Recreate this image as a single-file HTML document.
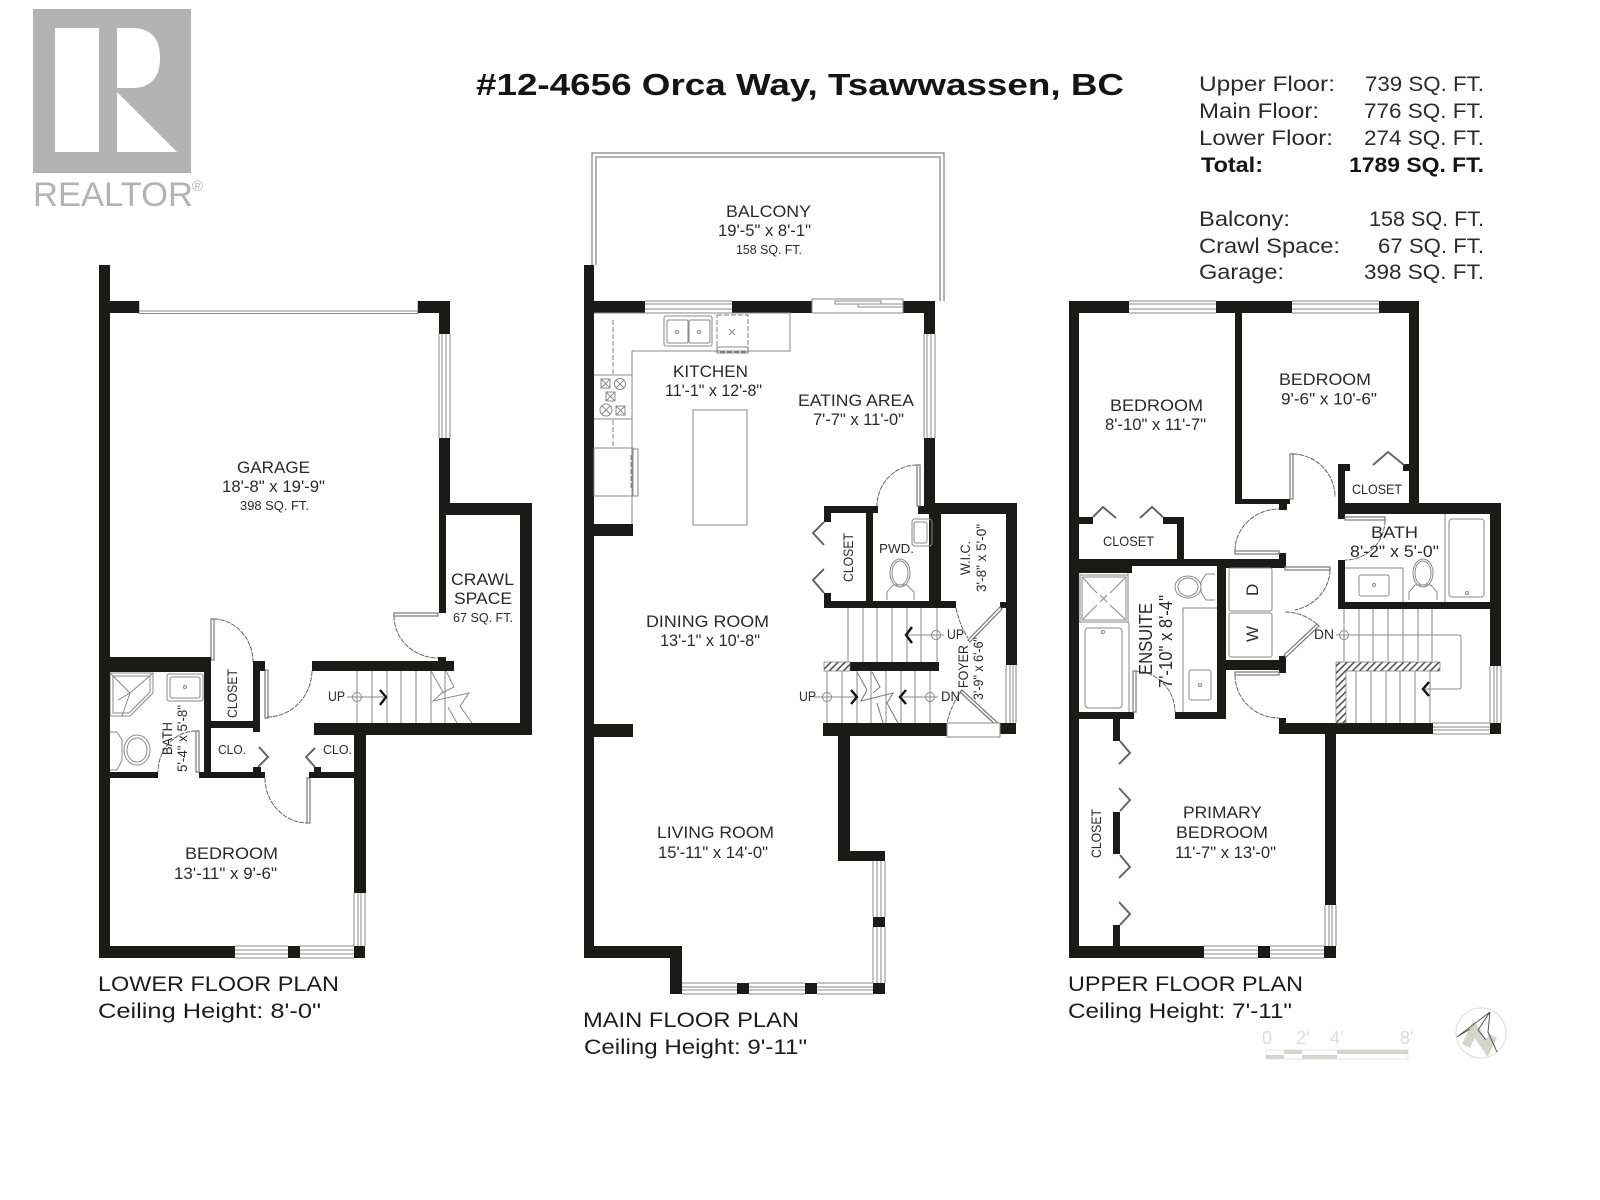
<!DOCTYPE html>
<html><head><meta charset="utf-8"><title>Floor plan</title>
<style>
html,body{margin:0;padding:0;background:#fff}
svg{display:block}
text{font-family:"Liberation Sans",sans-serif;fill:#2b2b2b}
.b{font-weight:bold;fill:#151515}
.m{fill:#1c1c1c}
.g{fill:none;stroke:#8a8a8a;stroke-width:1}
.d{fill:none;stroke:#777;stroke-width:.9;stroke-dasharray:5 2}
.f{fill:#fff;stroke:#777;stroke-width:1.2}
.l{fill:none;stroke:#666;stroke-width:1}
.c{fill:none;stroke:#111;stroke-width:2.4}
</style></head><body>
<svg xmlns="http://www.w3.org/2000/svg" width="1600" height="1200" viewBox="0 0 1600 1200">
<defs><pattern id="h" width="5" height="5" patternUnits="userSpaceOnUse" patternTransform="rotate(45)"><rect width="5" height="5" fill="#fff"/><rect width="1.6" height="5" fill="#555"/></pattern></defs>
<rect width="1600" height="1200" fill="#fff"/>

<!-- Logo -->
<rect x="33" y="9" width="158" height="164" fill="#b3b3b3"/>
<rect x="55" y="28" width="44" height="124" fill="#fff"/>
<path d="M117 28H135Q160 30 160 58Q160 86 135 88H117Z" fill="#fff"/>
<path d="M117 92L177 152H117Z" fill="#fff"/>
<text x="33" y="206" font-size="34" textLength="160" lengthAdjust="spacingAndGlyphs" style="fill:#b3b3b3">REALTOR</text>
<text x="192" y="191" font-size="15" style="fill:#b3b3b3">®</text>

<!-- Title -->
<text class="b" x="476" y="95" font-size="31" textLength="648" lengthAdjust="spacingAndGlyphs">#12-4656 Orca Way, Tsawwassen, BC</text>

<!-- Stats -->
<g font-size="21">
<text x="1199" y="91" textLength="136" lengthAdjust="spacingAndGlyphs">Upper Floor:</text>
<text x="1199" y="118" textLength="120" lengthAdjust="spacingAndGlyphs">Main Floor:</text>
<text x="1199" y="145" textLength="134" lengthAdjust="spacingAndGlyphs">Lower Floor:</text>
<text class="b" x="1201" y="172" textLength="62" lengthAdjust="spacingAndGlyphs">Total:</text>
<text x="1199" y="226" textLength="91" lengthAdjust="spacingAndGlyphs">Balcony:</text>
<text x="1199" y="253" textLength="141" lengthAdjust="spacingAndGlyphs">Crawl Space:</text>
<text x="1199" y="279" textLength="85" lengthAdjust="spacingAndGlyphs">Garage:</text>
<text x="1365" y="91" textLength="119" lengthAdjust="spacingAndGlyphs">739 SQ. FT.</text>
<text x="1364" y="118" textLength="120" lengthAdjust="spacingAndGlyphs">776 SQ. FT.</text>
<text x="1364" y="145" textLength="120" lengthAdjust="spacingAndGlyphs">274 SQ. FT.</text>
<text class="b" x="1349" y="172" textLength="135" lengthAdjust="spacingAndGlyphs">1789 SQ. FT.</text>
<text x="1369" y="226" textLength="115" lengthAdjust="spacingAndGlyphs">158 SQ. FT.</text>
<text x="1378" y="253" textLength="106" lengthAdjust="spacingAndGlyphs">67 SQ. FT.</text>
<text x="1364" y="279" textLength="120" lengthAdjust="spacingAndGlyphs">398 SQ. FT.</text>
</g>

<!-- Balcony -->
<path class="l" d="M592 265V153H944V301M596 265V157H940V301"/>

<!-- Fine fixtures: lower floor -->
<g class="g">
<path d="M139 301V313.5H418V301M139 301V311H418"/>
<path d="M110 673H153V693L130 716H110Z"/><path d="M113 676H150V692L129 713H113Z"/>
<path d="M110 673L130 693M153 673L130 693M130 693L122 716M130 693L118 700"/>
<rect x="167" y="674" width="36" height="27" rx="2"/><rect x="170" y="677" width="30" height="21" rx="2"/>
<circle cx="185" cy="687" r="1.5"/>
<ellipse cx="137" cy="750" rx="13" ry="15"/><ellipse cx="137" cy="750" rx="10" ry="12"/>
<path d="M110 732H117L122 740V760L117 770H110"/>
<path d="M357 671V723M372 671V723M387 671V723M401 671V723M416 671V723M431 671V723M445 671V723"/>
<path d="M431 671L443 692L433 701L469 693L460 706L472 723M446 671L454 687L442 693M448 707L457 723"/>
</g>
<!-- Doors lower -->
<g class="f">
<rect x="211" y="619" width="3" height="41"/><rect x="265" y="670" width="3" height="48"/>
<rect x="307" y="778" width="3" height="45"/><rect x="196" y="731" width="3" height="41"/>
<rect x="394" y="613" width="44" height="3"/>
</g>
<g class="l" stroke-dasharray="5 1">
<path d="M214 619A40 43 0 0 1 253 662"/><path d="M267 717A45 47 0 0 0 312 671"/>
<path d="M265 778A43 45 0 0 0 308 823"/><path d="M196 731A38 41 0 0 0 158 772"/><path d="M394 616A44 42 0 0 0 438 658"/>
</g>
<g style="fill:none;stroke:#666;stroke-width:2">
<path d="M258 767L268 757L259 747"/><path d="M315 767L306 757L315 748"/>
</g>

<!-- Walls -->
<g fill="#1a1a18">
<!-- lower -->
<path d="M99 265H110V946H235V958H99ZM110 301H139V313H110ZM418 301H450V334H439V313H418ZM439 438H450V503H532V735H314V723H520V515H446V613H439ZM288 946H300V958H288ZM354 946H365V958H354ZM355 723H366V893H354V734ZM110 657H211V672H110ZM204 672H211V778H199V772H204ZM253 661H265V671H260V732H253ZM204 721H260V728H204ZM312 661H454V671H312ZM438 657H446V661H438ZM110 772H158V778H110ZM199 772H265V778H199ZM253 767H261V772H253ZM309 772H355V778H309ZM314 767H321V772H314ZM314 723H321V733H314Z"/>
<!-- main -->
<path d="M584 265H594V946H682V994H670V958H584ZM594 301H645V313H594ZM732 301H812V313H732ZM903 301H935V334H924V313H903ZM924 438H935V503H1017V665H1006V514H941V601H956V608H824V506H878V513H831V522H824V593H831V601H866V513H873V601H929V514H918V506H924ZM1000 602H1006V608H1000ZM850 662H939V671H850ZM823 723H947V736H850V851H885V861H838V736H823ZM1000 723H1016V734H1000ZM594 524H633V536H594ZM593 724H633V737H593ZM737 983H749V994H737ZM805 983H817V994H805ZM873 983H885V994H873ZM873 917H885V927H873Z"/>
<!-- upper -->
<path d="M1069 301H1129V313H1079V946H1204V958H1069Z"/>
<path d="M1216 301H1292V313H1242V499H1290V504H1287V510H1280V504H1235V313H1216Z"/>
<path d="M1379 301H1419V503H1501V666H1490V514H1345V519H1338V464H1350V471H1345V503H1409V313H1379Z"/>
<path d="M1403 464H1409V471H1403ZM1079 517H1093V524H1079Z"/>
<path d="M1163 517H1184V559H1279V553H1286V568H1226V660H1279V656H1286V673H1279V670H1226V719H1175V712H1217V566H1132V573H1079V559H1177V524H1163Z"/>
<path d="M1338 560H1345V602H1490V609H1338ZM1279 503H1286V510H1279ZM1279 718H1286V723H1433V734H1279ZM1490 723H1501V734H1490ZM1079 712H1134V719H1079ZM1113 719H1120V741H1113ZM1113 812H1120V854H1113ZM1113 925H1120V946H1113ZM1258 946H1270V958H1258ZM1325 734H1336V905H1325ZM1324 946H1336V958H1324Z"/>
</g>

<!-- Windows -->
<g class="g">
<path d="M439 334V438M442 334V438M446 334V438M450 334V438"/>
<path d="M354 893V946M358 893V946M361 893V946M365 893V946"/>
<path d="M235 946H288M235 950H288M235 954H288M235 958H288M300 946H354M300 950H354M300 954H354M300 958H354"/>
<path d="M645 301H732M645 304H732M645 309H732M645 313H732"/>
<path d="M924 334V438M927 334V438M931 334V438M935 334V438"/>
<path d="M1006 665V723M1010 665V723M1013 665V723M1016 665V723"/>
<path d="M682 983H737M682 987H737M682 990H737M682 994H737M749 983H805M749 987H805M749 990H805M749 994H805M817 983H873M817 987H873M817 990H873M817 994H873"/>
<path d="M873 861V917M877 861V917M881 861V917M885 861V917M873 927V983M877 927V983M881 927V983M885 927V983"/>
<path d="M1129 301H1216M1129 304H1216M1129 309H1216M1129 313H1216M1292 301H1379M1292 304H1379M1292 309H1379M1292 313H1379"/>
<path d="M1490 666V723M1494 666V723M1497 666V723M1501 666V723"/>
<path d="M1433 723H1490M1433 727H1490M1433 730H1490M1433 734H1490"/>
<path d="M1204 946H1258M1204 950H1258M1204 954H1258M1204 958H1258M1270 946H1324M1270 950H1324M1270 954H1324M1270 958H1324"/>
<path d="M1325 905V946M1329 905V946M1332 905V946M1336 905V946"/>
</g>

<!-- Slider door -->
<g class="g">
<rect x="812" y="299" width="91" height="14"/>
<rect x="835" y="301" width="46" height="3"/><rect x="858" y="304" width="45" height="3"/>
</g>

<!-- Kitchen -->
<g class="g">
<path d="M594 313H790V351H632V524M594 375H632M594 419H632"/>
<rect x="664" y="316" width="48" height="30" rx="2"/>
<rect x="667" y="320" width="21" height="23" rx="1.5"/><rect x="689" y="320" width="21" height="23" rx="1.5"/>
<circle cx="677" cy="332" r="1.5"/><circle cx="699" cy="332" r="1.5"/>
<circle cx="620" cy="384" r="5.5"/><path d="M616 380L624 388M624 380L616 388"/>
<rect x="601" y="379" width="9" height="9"/><path d="M601 379L610 388M610 379L601 388"/>
<rect x="606" y="392" width="9" height="9"/><path d="M606 392L615 401M615 392L606 401"/>
<circle cx="606" cy="410" r="6"/><path d="M602 406L610 414M610 406L602 414"/>
<rect x="616" y="406" width="9" height="9"/><path d="M616 406L625 415M625 406L616 415"/>
<rect x="594" y="448" width="39" height="48"/><path d="M633 449H638V496H633"/>
<rect x="693" y="410" width="54" height="115"/>
<path d="M717 347H748V353H717Z"/>
<path d="M729 329L735 335M735 329L729 335"/>
</g>
<path class="d" d="M717 315H748V352H717Z"/>
<path class="d" d="M613 320V375M613 420V447M631 455V490"/>

<!-- Main fixtures -->
<g class="g">
<path d="M848 608V662M863 608V662M877 608V662M892 608V662M907 608V662M921 608V662M937 608V662"/>
<path d="M827 671V723M842 671V723M857 671V723M871 671V723M886 671V723M901 671V723M915 671V723M930 671V723"/>
<rect x="912" y="519" width="20" height="27" rx="3"/><rect x="914" y="522" width="13" height="21" rx="2"/>
<ellipse cx="900" cy="573" rx="10" ry="14"/><ellipse cx="900" cy="573" rx="8" ry="12"/>
<path d="M887 600V592L893 585H907L914 592V600"/>
<circle cx="936" cy="635" r="4.5"/><circle cx="827" cy="697" r="4.5"/><circle cx="930" cy="697" r="4.5"/>
<path d="M908 635H944M814 697H857M902 697H938"/>
</g>
<path d="M857 672L867 690L861 701L893 693L887 703L898 723M872 672L880 687L873 693M877 703L883 723" fill="#fff" fill-opacity="0" stroke="#777" stroke-width="1"/>
<rect x="824" y="662" width="26" height="9" fill="url(#h)" stroke="#777" stroke-width=".7"/>
<path class="c" d="M912 627L906 635L912 643"/><path class="c" d="M851 690L857 697L851 704"/><path class="c" d="M906 690L900 697L906 704"/>
<path class="c" d="M380 690L386 697L380 705"/>
<g class="g"><circle cx="357" cy="697" r="4.5"/><path d="M347 697H385"/></g>
<g class="f">
<rect x="917" y="465" width="3" height="41"/>
<path d="M968 640L1000 607L1002 609L970 642Z"/>
<path d="M962 690L1000 725L998 727L960 692Z"/>
<path d="M947 723H1000V737H947Z" style="stroke:#888;stroke-width:1"/>
</g>
<g class="l" stroke-dasharray="5 1">
<path d="M917 465A40 41 0 0 0 877 506"/><path d="M956 608Q960 626 968 638"/><path d="M962 690Q951 705 947 723"/>
</g>
<g style="fill:none;stroke:#666;stroke-width:2">
<path d="M824 522L813 533L824 545"/><path d="M824 569L813 580L824 593"/>
<path d="M1093 517L1103 507L1116 518"/><path d="M1140 518L1152 507L1163 517"/>
<path d="M1373 465L1388 452L1404 465"/>
<path d="M1120 741L1130 753L1119 764"/><path d="M1119 788L1130 800L1120 811"/><path d="M1120 855L1130 867L1119 878"/><path d="M1119 902L1130 914L1120 925"/>
</g>

<!-- Upper fixtures -->
<g class="g">
<path d="M1079 622H1129M1128 573V623M1129 623V712"/>
<rect x="1080" y="575" width="48" height="47"/><rect x="1082" y="577" width="44" height="43"/>
<path d="M1083 578L1097 593M1125 578L1110 593M1083 619L1097 605M1125 619L1110 605M1100 595L1107 602M1107 595L1100 602"/>
<rect x="1085" y="628" width="37" height="80" rx="3"/><circle cx="1103" cy="632" r="1.5"/>
<path d="M1183 712V608H1217"/>
<rect x="1189" y="670" width="22" height="30" rx="2"/><circle cx="1200" cy="685" r="1.5"/>
<ellipse cx="1188" cy="587" rx="13" ry="11"/><ellipse cx="1188" cy="587" rx="10" ry="9"/>
<path d="M1215 574H1206L1201 582V592L1206 600H1215"/>
<rect x="1229" y="568" width="43" height="43" rx="2"/><rect x="1229" y="613" width="43" height="44" rx="2"/>
<path d="M1445 514V602M1345 568H1403V602"/>
<rect x="1449" y="519" width="35" height="78" rx="3"/><circle cx="1467" cy="593" r="1.5"/>
<rect x="1359" y="575" width="30" height="21" rx="2"/><circle cx="1374" cy="585" r="1.5"/>
<ellipse cx="1423" cy="573" rx="10" ry="14"/><ellipse cx="1423" cy="573" rx="8" ry="12"/>
<path d="M1409 600V592L1415 585H1431L1437 592V600"/>
<path d="M1344 609V661M1359 609V661M1373 609V661M1388 609V661M1403 609V661M1418 609V661M1432 609V661"/>
<path d="M1356 671V723M1371 671V723M1386 671V723M1400 671V723M1415 671V723M1430 671V723"/>
<circle cx="1344" cy="635" r="4.5"/><path d="M1336 635H1459Q1461 635 1461 637V687Q1461 689 1459 689H1425"/>
</g>
<path d="M1336 662H1440V671H1346V723H1336Z" fill="url(#h)" stroke="#777" stroke-width=".7"/>
<path class="c" d="M1429 682L1423 689L1429 696"/>
<g class="f">
<rect x="1290" y="454" width="3" height="45"/>
<rect x="1235" y="551" width="44" height="3"/>
<rect x="1345" y="517" width="40" height="3"/>
<rect x="1285" y="567" width="45" height="3"/>
<path d="M1284 655L1317 624L1319 626L1286 657Z"/>
<rect x="1235" y="672" width="44" height="3"/>
<rect x="1133" y="671" width="3" height="41"/>
</g>
<g class="l" stroke-dasharray="5 1">
<path d="M1293 454A43 43 0 0 1 1335 497"/>
<path d="M1235 551A44 42 0 0 1 1279 509"/>
<path d="M1385 520A40 40 0 0 1 1345 560"/>
<path d="M1330 570A45 42 0 0 1 1295 610"/>
<path d="M1317 624Q1302 612 1285 612"/>
<path d="M1235 675A44 43 0 0 0 1279 718"/>
<path d="M1136 671A41 41 0 0 1 1175 712"/>
</g>

<!-- Labels lower -->
<g font-size="16.5">
<text x="237" y="473" textLength="73" lengthAdjust="spacingAndGlyphs">GARAGE</text>
<text x="222" y="492" textLength="103" lengthAdjust="spacingAndGlyphs">18'-8" x 19'-9"</text>
<text x="451" y="585" textLength="63" lengthAdjust="spacingAndGlyphs">CRAWL</text>
<text x="454" y="604" textLength="58" lengthAdjust="spacingAndGlyphs">SPACE</text>
<text x="185" y="859" textLength="93" lengthAdjust="spacingAndGlyphs">BEDROOM</text>
<text x="174" y="879" textLength="103" lengthAdjust="spacingAndGlyphs">13'-11"  x 9'-6"</text>
<text x="726" y="217" textLength="85" lengthAdjust="spacingAndGlyphs">BALCONY</text>
<text x="718" y="236" textLength="93" lengthAdjust="spacingAndGlyphs">19'-5" x 8'-1"</text>
<text x="673" y="377" textLength="75" lengthAdjust="spacingAndGlyphs">KITCHEN</text>
<text x="665" y="396" textLength="97" lengthAdjust="spacingAndGlyphs">11'-1"  x 12'-8"</text>
<text x="798" y="406" textLength="116" lengthAdjust="spacingAndGlyphs">EATING AREA</text>
<text x="813" y="425" textLength="91" lengthAdjust="spacingAndGlyphs">7'-7" x 11'-0"</text>
<text x="646" y="627" textLength="123" lengthAdjust="spacingAndGlyphs">DINING ROOM</text>
<text x="660" y="646" textLength="100" lengthAdjust="spacingAndGlyphs">13'-1" x 10'-8"</text>
<text x="657" y="838" textLength="117" lengthAdjust="spacingAndGlyphs">LIVING ROOM</text>
<text x="658" y="858" textLength="110" lengthAdjust="spacingAndGlyphs">15'-11"  x 14'-0"</text>
<text x="1110" y="411" textLength="93" lengthAdjust="spacingAndGlyphs">BEDROOM</text>
<text x="1105" y="430" textLength="101" lengthAdjust="spacingAndGlyphs">8'-10" x 11'-7"</text>
<text x="1279" y="385" textLength="92" lengthAdjust="spacingAndGlyphs">BEDROOM</text>
<text x="1281" y="404.500" textLength="96" lengthAdjust="spacingAndGlyphs">9'-6" x 10'-6"</text>
<text x="1371" y="538" textLength="47" lengthAdjust="spacingAndGlyphs">BATH</text>
<text x="1350" y="557" textLength="89" lengthAdjust="spacingAndGlyphs">8'-2" x 5'-0"</text>
<text x="1183" y="818" textLength="79" lengthAdjust="spacingAndGlyphs">PRIMARY</text>
<text x="1176" y="838" textLength="92" lengthAdjust="spacingAndGlyphs">BEDROOM</text>
<text x="1175" y="858" textLength="101" lengthAdjust="spacingAndGlyphs">11'-7" x 13'-0"</text>
</g>
<g font-size="13">
<text x="240" y="510" textLength="69" lengthAdjust="spacingAndGlyphs">398 SQ. FT.</text>
<text x="453" y="622" textLength="60" lengthAdjust="spacingAndGlyphs">67 SQ. FT.</text>
<text x="736" y="254" textLength="66" lengthAdjust="spacingAndGlyphs">158 SQ. FT.</text>
<text x="218" y="754" textLength="28" lengthAdjust="spacingAndGlyphs">CLO.</text>
<text x="323" y="754" textLength="29" lengthAdjust="spacingAndGlyphs">CLO.</text>
<text x="879" y="553" textLength="35" lengthAdjust="spacingAndGlyphs">PWD.</text>
</g>
<g font-size="14">
<text x="1352" y="494" textLength="50" lengthAdjust="spacingAndGlyphs">CLOSET</text>
<text x="1103" y="546" textLength="51" lengthAdjust="spacingAndGlyphs">CLOSET</text>
<text x="328" y="701" textLength="17" lengthAdjust="spacingAndGlyphs">UP</text>
<text x="947" y="639" textLength="17" lengthAdjust="spacingAndGlyphs">UP</text>
<text x="799" y="701" textLength="17" lengthAdjust="spacingAndGlyphs">UP</text>
<text x="941" y="701" textLength="19" lengthAdjust="spacingAndGlyphs">DN</text>
<text x="1314" y="639" textLength="20" lengthAdjust="spacingAndGlyphs">DN</text>
<text transform="translate(237,718) rotate(-90)" textLength="49" lengthAdjust="spacingAndGlyphs">CLOSET</text>
<text transform="translate(172,755) rotate(-90)" textLength="33" lengthAdjust="spacingAndGlyphs">BATH</text>
<text transform="translate(187,772) rotate(-90)" textLength="67" lengthAdjust="spacingAndGlyphs">5'-4" x 5'-8"</text>
<text transform="translate(853,582) rotate(-90)" textLength="49" lengthAdjust="spacingAndGlyphs">CLOSET</text>
<text transform="translate(970,575) rotate(-90)" textLength="34" lengthAdjust="spacingAndGlyphs">W.I.C.</text>
<text transform="translate(986,592) rotate(-90)" textLength="68" lengthAdjust="spacingAndGlyphs">3'-8" x 5'-0"</text>
<text transform="translate(968,688) rotate(-90)" textLength="43" lengthAdjust="spacingAndGlyphs">FOYER</text>
<text transform="translate(983,700) rotate(-90)" textLength="63" lengthAdjust="spacingAndGlyphs">3'-9" x 6'-6"</text>
<text transform="translate(1101,858) rotate(-90)" textLength="49" lengthAdjust="spacingAndGlyphs">CLOSET</text>
</g>
<g font-size="18">
<text transform="translate(1152,675) rotate(-90)" textLength="72" lengthAdjust="spacingAndGlyphs">ENSUITE</text>
<text transform="translate(1172,688) rotate(-90)" textLength="93" lengthAdjust="spacingAndGlyphs">7'-10" x 8'-4"</text>
<text transform="translate(1258,596) rotate(-90)" font-size="17">D</text>
<text transform="translate(1258,642) rotate(-90)" font-size="17">W</text>
</g>

<!-- Plan titles -->
<g font-size="21">
<text class="m" x="98" y="991" textLength="241" lengthAdjust="spacingAndGlyphs">LOWER FLOOR PLAN</text>
<text class="m" x="98" y="1018" textLength="223" lengthAdjust="spacingAndGlyphs">Ceiling Height: 8'-0"</text>
<text class="m" x="583" y="1027" textLength="216" lengthAdjust="spacingAndGlyphs">MAIN FLOOR PLAN</text>
<text class="m" x="584" y="1054" textLength="223" lengthAdjust="spacingAndGlyphs">Ceiling Height: 9'-11"</text>
<text class="m" x="1068" y="991" textLength="235" lengthAdjust="spacingAndGlyphs">UPPER FLOOR PLAN</text>
<text class="m" x="1068" y="1018" textLength="224" lengthAdjust="spacingAndGlyphs">Ceiling Height: 7'-11"</text>
</g>

<!-- Scale -->
<g font-size="18">
<text x="1262" y="1044" style="fill:#dcdcdc">0</text><text x="1296" y="1044" style="fill:#dcdcdc">2'</text><text x="1330" y="1044" style="fill:#dcdcdc">4'</text><text x="1400" y="1044" style="fill:#dcdcdc">8'</text>
</g>
<rect x="1266" y="1050" width="142" height="9" fill="#fff" stroke="#e6e6e0" stroke-width="1"/>
<g fill="#d4d6cd">
<rect x="1266" y="1055" width="18" height="4"/><rect x="1284" y="1050" width="18" height="4"/>
<rect x="1302" y="1055" width="35" height="4"/><rect x="1337" y="1050" width="71" height="4"/>
</g>

<!-- Compass -->
<circle cx="1481" cy="1033" r="25" fill="none" stroke="#e2e2e2" stroke-width="1.2"/>
<path d="M1466 1046L1474 1029L1487 1048L1493 1036" fill="none" stroke="#d4d6cd" stroke-width="9"/>
<path d="M1490 1012L1457 1037L1470 1029M1490 1012L1478 1030L1486 1040M1490 1012L1488 1032L1497 1052" fill="none" stroke="#555" stroke-width="1"/>
</svg>
</body></html>
